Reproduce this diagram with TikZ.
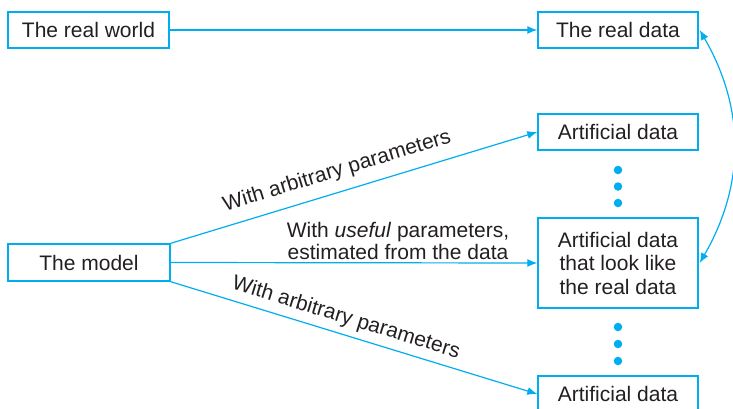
\documentclass[tikz,border=0pt]{standalone}
\usepackage{fontspec}
\setmainfont{Liberation Sans}
\usetikzlibrary{arrows.meta}
\definecolor{cy}{RGB}{0,174,239}
\definecolor{tx}{RGB}{35,31,32}
\begin{document}
\begin{tikzpicture}[x=1pt,y=-1pt,
  box/.style={draw=cy, line width=1.4pt, text=tx, inner sep=0pt, align=center,
    font=\fontsize{21}{23.5}\selectfont},
  conn/.style={draw=cy, line width=1.2pt, -{Latex[length=10pt,width=8pt]}},
  lab/.style={text=tx, font=\fontsize{21}{22}\selectfont, align=center},
  dot/.style={circle, fill=cy, inner sep=0pt, minimum size=8.5pt}
]
\useasboundingbox (0,0) rectangle (733,408);
\node[box, minimum width=161pt, minimum height=36pt] (rw) at (88.5,30) {The real world};
\node[box, minimum width=160pt, minimum height=36pt] (rd) at (618,30) {The real data};
\node[box, minimum width=160pt, minimum height=36pt] (a1) at (618,132) {Artificial data};
\node[box, minimum width=160pt, minimum height=90pt] (am) at (618,263) {Artificial data\\that look like\\the real data};
\node[box, minimum width=160pt, minimum height=36pt] (a3) at (618,394) {Artificial data};
\node[box, minimum width=162pt, minimum height=37pt] (md) at (89,262.5) {The model};

\node[dot] (d1) at (618,170) {};
\node[dot] (d2) at (618,186.5) {};
\node[dot] (d3) at (618,203) {};
\node[dot] (d4) at (618,327) {};
\node[dot] (d5) at (618,344) {};
\node[dot] (d6) at (618,361) {};

\draw[conn] (rw) -- (rd);
\draw[conn] (md.north east) -- node[lab, pos=0.47, sloped, above=7pt, inner sep=3pt] {With arbitrary parameters} (a1.west);
\draw[conn] (md.east) -- node[lab, pos=0.62, above=1pt, inner sep=2pt] {With \textit{useful} parameters,\\estimated from the data} (am.west);
\draw[conn] (md.south east) -- node[lab, pos=0.465, sloped, above=3pt, inner sep=3pt] {With arbitrary parameters} (a3.west);
\draw[draw=cy, line width=1.2pt, {Latex[length=10pt,width=8pt]}-{Latex[length=10pt,width=8pt]}]
  ([xshift=1pt]rd.east) to[bend left=30] ([xshift=1pt]am.east);
\end{tikzpicture}
\end{document}
